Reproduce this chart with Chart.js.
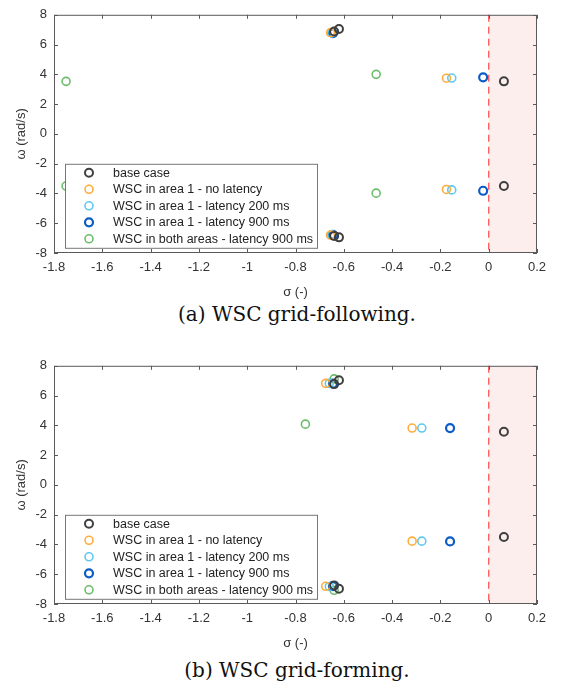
<!DOCTYPE html>
<html>
<head>
<meta charset="utf-8">
<script src="https://cdn.jsdelivr.net/npm/chart.js@4"></script>
<style>
  body { margin: 0; background: #fff; }
  #wrap { position: relative; width: 562px; height: 682px; }
  .plot { position: absolute; left: 0; }
  .caption { position: absolute; left: 0; width: 594px; text-align: center;
             font-family: 'DejaVu Serif', serif; font-size: 20px; line-height: 24px; color: #111; }
</style>
</head>
<body>
<div id="wrap">
  <canvas id="following" class="plot" width="562" height="300" style="top:0px"></canvas>
  <div class="caption" style="top:302px">(a) WSC grid-following.</div>
  <canvas id="forming" class="plot" width="562" height="300" style="top:351px"></canvas>
  <div class="caption" style="top:658px">(b) WSC grid-forming.</div>
</div>
<script>
// legend labels and marker colours
const seriesNames = [
  'base case',
  'WSC in area 1 - no latency',
  'WSC in area 1 - latency 200 ms',
  'WSC in area 1 - latency 900 ms',
  'WSC in both areas - latency 900 ms'
];
const seriesColors = ['#3f3f3f', '#ffac3a', '#5ec8f0', '#0b5cc6', '#6cbd6c'];
const seriesWidths = [2, 1.6, 1.6, 2.2, 1.6];

const xTicks = [-1.8, -1.6, -1.4, -1.2, -1, -0.8, -0.6, -0.4, -0.2, 0, 0.2];
const yTicks = [-8, -6, -4, -2, 0, 2, 4, 6, 8];
const unstableRange = [0, 0.2];

// (a) grid-following eigenvalues: sigma (real part), omega (imag part)
const folBaseSigma = [0.063, 0.063, -0.62, -0.62, -0.64, -0.64];
const folBaseOmega = [3.53, -3.5, 7.05, -6.95, 6.88, -6.85];
const folNoLatSigma = [-0.175, -0.175, -0.655, -0.655];
const folNoLatOmega = [3.74, -3.73, 6.8, -6.8];
const folLat200Sigma = [-0.153, -0.153, -0.65, -0.65];
const folLat200Omega = [3.75, -3.76, 6.78, -6.78];
const folLat900Sigma = [-0.023, -0.023, -0.645, -0.645];
const folLat900Omega = [3.8, -3.82, 6.76, -6.78];
const folBothSigma = [-1.75, -1.75, -0.466, -0.466];
const folBothOmega = [3.53, -3.5, 4.0, -3.98];

// (b) grid-forming eigenvalues
const forBaseSigma = [0.063, 0.063, -0.62, -0.62, -0.64, -0.64];
const forBaseOmega = [3.57, -3.5, 7.03, -6.97, 6.77, -6.75];
const forNoLatSigma = [-0.317, -0.317, -0.675, -0.675];
const forNoLatOmega = [3.82, -3.78, 6.82, -6.81];
const forLat200Sigma = [-0.277, -0.277, -0.66, -0.66];
const forLat200Omega = [3.82, -3.78, 6.82, -6.82];
const forLat900Sigma = [-0.16, -0.16, -0.645, -0.645];
const forLat900Omega = [3.82, -3.8, 6.8, -6.8];
const forBothSigma = [-0.759, -0.64, -0.64];
const forBothOmega = [4.08, 7.12, -7.08];

function points(sig, om) {
  return sig.map((s, i) => ({ x: s, y: om[i] }));
}

const framePlugin = {
  id: 'frame',
  beforeDatasetsDraw(chart) {
    const { ctx, chartArea: a, scales: { x } } = chart;
    const x0 = x.getPixelForValue(unstableRange[0]);
    const x1 = x.getPixelForValue(unstableRange[1]);
    ctx.save();
    ctx.fillStyle = '#fdeeee';
    ctx.fillRect(x0, a.top, x1 - x0, a.bottom - a.top);
    ctx.strokeStyle = '#ff5a5a';
    ctx.lineWidth = 1.3;
    ctx.setLineDash([7, 5]);
    ctx.beginPath();
    ctx.moveTo(x0, a.top);
    ctx.lineTo(x0, a.bottom);
    ctx.stroke();
    ctx.restore();
  },
  afterDatasetsDraw(chart) {
    const { ctx, chartArea: a, scales: { x, y } } = chart;
    ctx.save();
    ctx.strokeStyle = '#5a5a5a';
    ctx.lineWidth = 1;
    ctx.strokeRect(a.left + 0.5, a.top + 0.5, a.right - a.left - 1, a.bottom - a.top - 1);
    ctx.beginPath();
    xTicks.forEach(v => {
      const px = Math.round(x.getPixelForValue(v)) + 0.5;
      ctx.moveTo(px, a.top); ctx.lineTo(px, a.top + 4);
      ctx.moveTo(px, a.bottom); ctx.lineTo(px, a.bottom - 4);
    });
    yTicks.forEach(v => {
      const py = Math.round(y.getPixelForValue(v)) + 0.5;
      ctx.moveTo(a.left, py); ctx.lineTo(a.left + 4, py);
      ctx.moveTo(a.right, py); ctx.lineTo(a.right - 4, py);
    });
    ctx.stroke();

    // legend box inside the axes, lower left
    const lx = a.left + 11, ly = a.top + 149, lw = 252, lh = 84;
    ctx.fillStyle = '#fff';
    ctx.fillRect(lx, ly, lw, lh);
    ctx.strokeStyle = '#777';
    ctx.strokeRect(lx + 0.5, ly + 0.5, lw, lh);
    ctx.font = '12.5px "Liberation Sans", Arial, sans-serif';
    ctx.textBaseline = 'middle';
    chart.data.datasets.forEach((ds, i) => {
      const ry = ly + 9 + i * 16.5;
      ctx.beginPath();
      ctx.lineWidth = ds.borderWidth;
      ctx.strokeStyle = ds.borderColor;
      ctx.arc(lx + 24, ry, 4, 0, Math.PI * 2);
      ctx.stroke();
      ctx.fillStyle = '#222';
      ctx.fillText(ds.label, lx + 48, ry + 0.5);
    });
    ctx.restore();
  }
};

function makeChart(id, seriesData) {
  const datasets = seriesData.map((d, i) => ({
    label: seriesNames[i],
    data: points(d[0], d[1]),
    borderColor: seriesColors[i],
    backgroundColor: 'rgba(0,0,0,0)',
    borderWidth: seriesWidths[i],
    pointRadius: 4,
    pointHoverRadius: 4,
    showLine: false
  }));
  const tickFont = { family: '"Liberation Sans", Arial, sans-serif', size: 13 };
  return new Chart(document.getElementById(id), {
    type: 'scatter',
    data: { datasets },
    options: {
      responsive: false,
      animation: false,
      layout: { padding: { top: 10, left: 4, right: 25, bottom: 0 } },
      plugins: { legend: { display: false }, tooltip: { enabled: false } },
      scales: {
        x: {
          type: 'linear', min: -1.8, max: 0.2,
          afterBuildTicks: s => { s.ticks = xTicks.map(v => ({ value: v })); },
          afterFit: s => { s.height = 47; },
          grid: { display: false, drawTicks: false },
          border: { display: false },
          ticks: { color: '#333', font: tickFont, padding: 7, maxRotation: 0,
                   callback: v => String(+v.toFixed(1)) },
          title: { display: true, text: 'σ (-)', color: '#333', font: tickFont,
                   padding: { top: 0, bottom: 0 } }
        },
        y: {
          type: 'linear', min: -8, max: 8,
          afterBuildTicks: s => { s.ticks = yTicks.map(v => ({ value: v })); },
          afterFit: s => { s.width = 50; },
          grid: { display: false, drawTicks: false },
          border: { display: false },
          ticks: { color: '#333', font: tickFont, padding: 7,
                   callback: v => String(v) },
          title: { display: true, text: 'ω (rad/s)', color: '#333', font: tickFont,
                   padding: { top: 10, bottom: 0 } }
        }
      }
    },
    plugins: [framePlugin]
  });
}

makeChart('following', [
  [folBaseSigma, folBaseOmega],
  [folNoLatSigma, folNoLatOmega],
  [folLat200Sigma, folLat200Omega],
  [folLat900Sigma, folLat900Omega],
  [folBothSigma, folBothOmega]
]);
makeChart('forming', [
  [forBaseSigma, forBaseOmega],
  [forNoLatSigma, forNoLatOmega],
  [forLat200Sigma, forLat200Omega],
  [forLat900Sigma, forLat900Omega],
  [forBothSigma, forBothOmega]
]);
</script>
</body>
</html>
